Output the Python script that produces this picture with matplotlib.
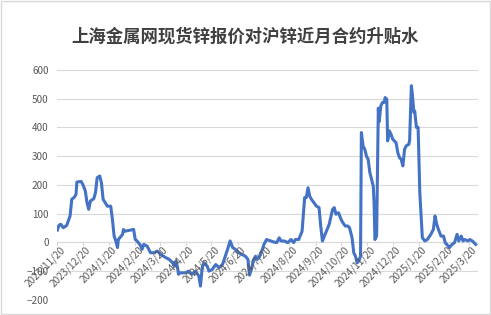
import matplotlib
matplotlib.use("Agg")
import matplotlib.pyplot as plt
import matplotlib.dates as mdates
import pandas as pd
from matplotlib.patches import Rectangle

plt.rcParams['font.family'] = ['Noto Sans CJK SC', 'DejaVu Sans']

title = "上海金属网现货锌报价对沪锌近月合约升贴水"
start_date = "2023-11-20"
# days after start_date
day_offsets = [0, 2, 4, 7, 11, 15, 17, 20, 22, 23, 28, 30, 33, 35, 37, 39, 43, 45, 47, 50,
               52, 54, 59, 63, 65, 67, 69, 71, 72, 77, 78, 80, 90, 92, 94, 98, 100, 102, 106, 110,
               114, 118, 122, 128, 132, 136, 138, 140, 142, 143, 145, 151, 155, 159, 163, 167, 169, 171, 173, 177,
               179, 183, 187, 191, 195, 199, 201, 204, 207, 210, 214, 218, 222, 225, 227, 230, 232, 234, 236, 238,
               240, 242, 244, 247, 252, 256, 259, 262, 264, 268, 272, 276, 279, 281, 285, 289, 291, 292, 294, 296,
               298, 300, 303, 306, 309, 311, 313, 317, 321, 325, 327, 329, 332, 335, 337, 340, 343, 345, 348, 350,
               352, 354, 356, 358, 359, 361, 363, 365, 367, 369, 371, 373, 374, 375, 377, 379, 380, 382, 384, 386,
               387, 389, 390, 392, 394, 396, 398, 400, 402, 404, 406, 408, 410, 412, 415, 416, 418, 419, 421, 422,
               424, 426, 428, 430, 431, 434, 437, 441, 444, 446, 448, 450, 453, 456, 458, 460, 463, 466, 469, 472,
               474, 477, 479, 481, 485, 487, 490, 492, 494]
values = [43, 60, 63, 51, 59, 92, 150, 157, 167, 210, 212, 202, 179, 138, 115, 144, 152, 173, 225, 231,
          208, 150, 126, 126, 80, 22, 5, -18, 10, 28, 45, 39, 45, 10, 5, -10, -24, -7, -13, -36,
          -36, -30, -42, -53, -59, -71, -83, -65, -88, -111, -106, -106, -100, -111, -100, -117, -152, -88, -71, -83,
          -100, -94, -77, -88, -77, -42, -24, 5, -18, -24, -36, -42, -48, -59, -114, -83, -59, -48, -59, -53,
          -42, -24, -7, 10, 5, 1, -1, 16, 5, 5, -1, 10, -1, 10, 10, 39, 115, 156, 156, 190,
          161, 150, 138, 126, 121, 57, 5, 34, 63, 115, 121, 98, 103, 80, 69, 57, 57, 51, 16, -36,
          -48, -71, -65, -48, 382, 336, 324, 300, 289, 243, 220, 196, 138, 10, 22, 467, 420, 475, 487, 487,
          504, 498, 353, 388, 376, 359, 353, 347, 312, 295, 289, 266, 324, 336, 341, 356, 545, 521, 452, 457,
          400, 400, 173, 69, 16, 5, 10, 28, 45, 92, 63, 45, 22, 22, -1, -7, -18, -7, -1, 28,
          5, 22, 5, 10, 5, 10, 5, -1, -7]
tick_dates = ["2023-11-20", "2023-12-20", "2024-01-20", "2024-02-20", "2024-03-20", "2024-04-20",
              "2024-05-20", "2024-06-20", "2024-07-20", "2024-08-20", "2024-09-20", "2024-10-20",
              "2024-11-20", "2024-12-20", "2025-01-20", "2025-02-20", "2025-03-20"]
tick_labels = ["2023/11/20", "2023/12/20", "2024/1/20", "2024/2/20", "2024/3/20", "2024/4/20",
               "2024/5/20", "2024/6/20", "2024/7/20", "2024/8/20", "2024/9/20", "2024/10/20",
               "2024/11/20", "2024/12/20", "2025/1/20", "2025/2/20", "2025/3/20"]
y_ticks = [-200, -100, 0, 100, 200, 300, 400, 500, 600]

dates = pd.to_datetime(start_date) + pd.to_timedelta(day_offsets, unit="D")
tdates = pd.to_datetime(tick_dates)

fig = plt.figure(figsize=(4.91, 3.15), dpi=100)
fig.patches.append(Rectangle((0.002, 0.003), 0.996, 0.994, transform=fig.transFigure,
                             fill=False, edgecolor="#d9d9d9", linewidth=1.0))
ax = fig.add_axes([0.116, 0.048, 0.858, 0.73])

ax.plot(dates, values, color="#4472C4", linewidth=2.2, solid_joinstyle="round")

ax.set_ylim(-200, 600)
ax.set_yticks(y_ticks)
ax.set_xlim(tdates[0] - pd.Timedelta(days=0.5), pd.to_datetime("2025-03-31"))
ax.grid(axis="y", color="#d9d9d9", linewidth=0.8)
ax.set_axisbelow(True)
for s in ax.spines.values():
    s.set_visible(False)

ax.axhline(0, color="#d9d9d9", linewidth=0.8, zorder=1)
ax.tick_params(axis="y", length=0, labelsize=7.2, labelcolor="#595959", pad=6)
ax.set_xticks(tdates)
ax.set_xticklabels([])
ax.tick_params(axis="x", length=0)
# ticks and labels sit on the zero line
for d, lab in zip(tdates, tick_labels):
    ax.plot([d, d], [0, -8], color="#d9d9d9", linewidth=0.8, zorder=1)
    ax.text(d + pd.Timedelta(days=3), -8, lab, rotation=45, ha="right", va="top",
            fontsize=7.2, color="#595959", rotation_mode="anchor")

fig.text(0.5, 0.885, title, ha="center", va="center", fontsize=12.5,
         color="#404040", fontweight="bold")

fig.savefig("out.png", dpi=100)
